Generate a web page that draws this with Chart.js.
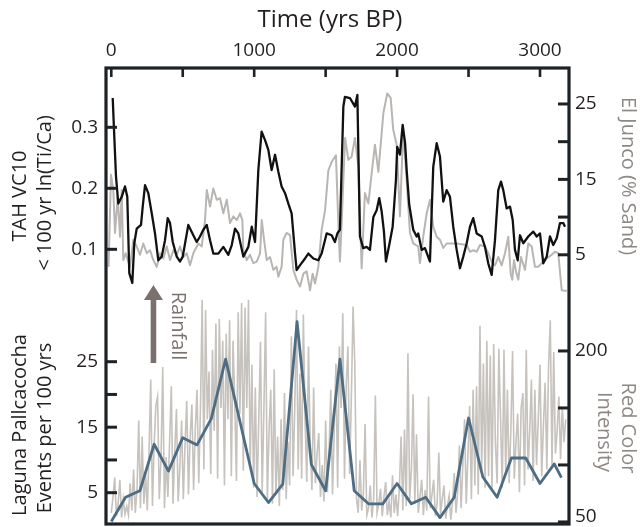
<!DOCTYPE html>
<html>
<head>
<meta charset="utf-8">
<title>TAH VC10 / El Junco / Laguna Pallcacocha</title>
<script src="https://cdn.jsdelivr.net/npm/chart.js@4.4.1/dist/chart.umd.min.js"></script>
<style>
  html, body { margin: 0; padding: 0; background: #fff; }
  #wrap { width: 641px; height: 527px; }
</style>
</head>
<body>
<div id="wrap"><canvas id="chart" width="641" height="527"></canvas></div>
<script>
// TAH VC10 < 100 yr ln(Ti/Ca), black line (top panel, left axis)
const tahYears = [10,19,33,49,73,96,112,126,147,161,
  178,208,220,236,259,283,306,329,353,376,
  395,411,430,458,481,500,539,574,598,621,
  644,668,691,714,749,784,819,843,866,889,
  924,959,983,1006,1029,1052,1076,1099,1122,1146,
  1169,1192,1216,1239,1262,1286,1297,1321,1356,1379,
  1414,1449,1472,1507,1542,1565,1582,1600,1624,1635,
  1670,1705,1722,1740,1763,1787,1810,1834,1857,1875,
  1892,1908,1922,1945,1969,1992,2001,2020,2039,2056,
  2067,2085,2113,2137,2148,2172,2195,2230,2253,2277,
  2300,2323,2347,2370,2393,2417,2440,2463,2487,2510,
  2533,2557,2592,2615,2638,2662,2685,2708,2727,2743,
  2767,2790,2809,2825,2844,2860,2883,2918,2953,2977,
  3000,3023,3047,3070,3093,3117,3140,3163,3175];
const tahValues = [0.348,0.296,0.219,0.175,0.186,0.203,0.186,0.061,0.045,0.110,
  0.134,0.140,0.170,0.205,0.192,0.159,0.126,0.082,0.088,0.115,
  0.151,0.143,0.112,0.088,0.080,0.088,0.140,0.123,0.112,0.121,
  0.132,0.140,0.115,0.093,0.093,0.104,0.091,0.107,0.134,0.126,
  0.088,0.104,0.137,0.112,0.230,0.293,0.279,0.263,0.230,0.255,
  0.227,0.203,0.192,0.175,0.159,0.093,0.066,0.074,0.085,0.093,
  0.085,0.082,0.093,0.126,0.123,0.112,0.126,0.132,0.334,0.350,
  0.348,0.334,0.353,0.121,0.102,0.104,0.099,0.153,0.164,0.184,
  0.162,0.129,0.080,0.107,0.137,0.214,0.268,0.255,0.304,0.274,
  0.230,0.173,0.132,0.121,0.126,0.099,0.102,0.080,0.235,0.274,
  0.252,0.178,0.197,0.186,0.137,0.099,0.069,0.088,0.110,0.137,
  0.151,0.126,0.121,0.104,0.077,0.058,0.115,0.197,0.211,0.197,
  0.167,0.170,0.148,0.099,0.082,0.123,0.110,0.121,0.129,0.121,
  0.126,0.077,0.088,0.121,0.107,0.118,0.143,0.143,0.137];

// El Junco % sand, grey line (top panel, right axis)
const junYears = [-19,-2,14,26,45,61,73,84,101,115,
  131,154,178,201,224,248,271,294,318,341,
  364,388,411,434,458,481,504,528,551,574,
  609,633,656,668,691,714,738,761,784,808,
  831,854,878,901,917,924,948,971,994,1018,
  1041,1053,1069,1088,1111,1134,1157,1169,1192,1204,
  1227,1251,1274,1297,1321,1344,1367,1391,1409,1426,
  1449,1472,1496,1519,1542,1572,1589,1600,1612,1636,
  1659,1682,1705,1729,1752,1775,1799,1822,1845,1869,
  1904,1931,1955,1973,1997,2020,2043,2067,2090,2113,
  2148,2160,2183,2207,2230,2253,2277,2300,2323,2347,
  2417,2487,2510,2533,2557,2580,2615,2638,2662,2685,
  2708,2732,2755,2778,2795,2806,2818,2832,2848,2867,
  2895,2918,2942,2965,2988,3012,3035,3058,3082,3105,
  3128,3152,3187];
const junValues = [3.4,15.6,13.6,7.9,12.7,7.4,13.6,4.3,5.2,4.3,
  3.4,7.0,6.1,5.0,6.5,5.2,5.6,4.3,3.4,5.2,
  4.5,6.1,4.3,5.6,5.0,6.1,4.7,5.2,3.6,5.2,
  6.5,6.1,9.6,13.6,11.4,13.8,12.3,12.5,10.5,12.3,
  9.2,10.1,9.6,10.5,9.6,5.6,4.3,5.0,3.9,4.1,
  5.2,9.6,7.0,4.3,4.7,3.0,3.4,2.1,3.4,7.0,
  7.9,7.6,3.0,1.7,0.8,2.5,2.8,0.3,2.5,1.2,
  3.4,8.3,10.9,16.2,17.3,18.2,9.2,4.1,9.2,20.5,
  17.6,18.0,20.5,16.7,3.2,13.2,11.8,15.8,19.6,16.0,
  23.8,26.4,25.8,21.6,19.6,10.1,21.6,14.9,7.9,6.5,
  6.1,3.9,7.4,10.5,12.3,8.7,7.4,7.0,5.9,6.5,
  6.5,6.3,5.4,5.6,5.4,6.3,6.1,5.2,4.1,3.6,
  4.7,3.6,5.2,7.4,2.5,1.7,4.3,2.8,1.7,4.7,
  3.0,6.5,6.1,3.4,3.4,3.9,4.3,4.7,5.0,5.4,
  5.2,0.3,0.2];

// Laguna Pallcacocha events per 100 yrs, blue line (bottom panel, left axis)
const eventYears = [0,100,200,300,400,500,600,700,800,900,1000,1100,1200,1300,1400,1500,
  1600,1700,1800,1900,2000,2100,2200,2300,2400,2500,2600,2700,2800,2900,3000,3100,3150];
const eventValues = [0.6,4.3,5.3,12.4,8.3,13.4,12.3,16.3,25.4,15.9,6.4,3.5,6.3,31.1,9.3,5.3,
  25.4,5.3,3.3,3.3,6.4,3.3,4.3,1.2,4.3,16.4,7.4,4.3,10.3,10.3,6.4,9.4,7.3];

// Red colour intensity, dense grey record (bottom panel, right axis), one value every 12 yrs
const redStartYear = 0;
const redStep = 12;
const redValues = [
  58,72,89,55,66,87,54,70,57,64,
  56,84,60,96,58,78,139,62,125,66,
  92,60,110,175,64,118,152,160,70,105,
  186,62,107,72,120,169,66,112,149,68,
  98,139,70,118,156,74,125,153,78,132,
  166,84,150,245,96,236,140,182,92,201,
  130,224,88,228,150,209,82,215,140,227,
  90,209,155,86,234,145,242,95,238,150,
  245,98,188,80,168,72,140,208,76,150,
  234,70,130,166,66,184,74,125,64,140,
  78,163,70,120,82,213,90,150,236,96,
  180,88,232,140,85,204,120,78,168,84,
  110,128,72,100,68,139,76,112,166,74,
  130,189,80,204,150,233,88,170,204,92,
  160,239,189,70,58,104,60,75,136,56,
  62,82,54,70,161,58,66,79,55,72,
  85,56,68,54,91,58,74,55,80,125,
  60,131,64,198,70,96,162,66,127,58,
  72,87,56,78,60,160,62,74,87,55,
  66,111,57,70,82,53,64,73,52,68,
  93,58,76,117,62,100,140,66,110,152,
  70,166,82,169,74,222,96,189,80,209,
  90,196,78,206,120,84,202,140,80,201,
  92,166,84,130,200,88,120,145,76,150,
  163,82,201,96,130,175,86,166,100,140,
  188,90,135,172,96,187,227,100,199,110,
  130,160,105,151,120,140];

// tick positions and which of them carry a label
const xTicks = [0,500,1000,1500,2000,2500,3000];
const xLabelled = [0,1000,2000,3000];
const tahTicks = [0.1,0.2,0.3];
const junTicks = [5,10,15,20,25];
const junLabelled = [5,15,25];
const evTicks = [5,10,15,20,25];
const evLabelled = [5,15,25];
const redTicks = [50,100,150,200];
const redLabelled = [50,200];

const FONT = '"Open Sans", "Noto Sans", sans-serif';
const INK = '#231f20';
const FRAME = '#1c2226';
const SOFT = '#8e8885';
const ARROW = '#7b706d';

function pairs(xs, ys) {
  return xs.map(function(x, i) { return {x: x, y: ys[i]}; });
}
const redPoints = redValues.map(function(v, i) { return {x: redStartYear + i * redStep, y: v}; });

function setTicks(list) {
  return function(scale) { scale.ticks = list.map(function(v) { return {value: v}; }); };
}
function fitWidth(w) {
  return function(scale) { scale.width = w; scale.paddingTop = 0; scale.paddingBottom = 0; };
}

function rotText(ctx, str, x, y, ang) {
  ctx.save();
  ctx.translate(x, y);
  ctx.rotate(ang);
  ctx.textAlign = 'center';
  ctx.textBaseline = 'middle';
  ctx.fillText(str, 0, 0);
  ctx.restore();
}

// frame, inward tick marks, titles and the rainfall arrow
const decor = {
  id: 'decor',
  afterDraw: function(chart) {
    const ctx = chart.ctx;
    const a = chart.chartArea;
    const sx = chart.scales.x;
    ctx.save();
    ctx.strokeStyle = FRAME;
    ctx.lineCap = 'butt';

    ctx.lineWidth = 2.6;
    sx.ticks.forEach(function(t) {
      const px = sx.getPixelForValue(t.value);
      ctx.beginPath(); ctx.moveTo(px, a.top); ctx.lineTo(px, a.top + 9); ctx.stroke();
    });
    ctx.lineWidth = 3;
    ['yTah', 'yEv'].forEach(function(id) {
      const s = chart.scales[id];
      s.ticks.forEach(function(t) {
        const py = s.getPixelForValue(t.value);
        ctx.beginPath(); ctx.moveTo(a.left, py); ctx.lineTo(a.left + 11, py); ctx.stroke();
      });
    });
    ['yJun', 'yRed'].forEach(function(id) {
      const s = chart.scales[id];
      s.ticks.forEach(function(t) {
        const py = s.getPixelForValue(t.value);
        ctx.beginPath(); ctx.moveTo(a.right - 11, py); ctx.lineTo(a.right, py); ctx.stroke();
      });
    });

    ctx.lineWidth = 3.2;
    ctx.strokeRect(a.left, a.top, a.right - a.left, a.bottom - a.top);

    // red intensity labels, the bottom one kept inside the picture
    const sr = chart.scales.yRed;
    ctx.fillStyle = INK;
    ctx.font = '19px ' + FONT;
    ctx.textAlign = 'left';
    ctx.textBaseline = 'middle';
    redLabelled.forEach(function(v) {
      const py = Math.min(sr.getPixelForValue(v), a.bottom - 7);
      ctx.fillText(String(v), a.right + 6, py);
    });

    // titles
    ctx.fillStyle = INK;
    ctx.font = '24px ' + FONT;
    ctx.textAlign = 'center';
    ctx.textBaseline = 'middle';
    ctx.fillText('Time (yrs BP)', 330, 20);

    ctx.font = '20px ' + FONT;
    rotText(ctx, 'TAH VC10', 20, 196, -Math.PI / 2);
    rotText(ctx, '< 100 yr ln(Ti/Ca)', 45, 193, -Math.PI / 2);
    rotText(ctx, 'Laguna Pallcacocha', 20, 425, -Math.PI / 2);
    rotText(ctx, 'Events per 100 yrs', 45, 428, -Math.PI / 2);

    ctx.fillStyle = SOFT;
    rotText(ctx, 'El Junco (% Sand)', 628, 176, Math.PI / 2);
    rotText(ctx, 'Red Color', 628, 428, Math.PI / 2);
    rotText(ctx, 'Intensity', 604, 432, Math.PI / 2);

    // rainfall arrow, anchored at 295 yrs BP
    const ax = sx.getPixelForValue(295);
    ctx.fillStyle = ARROW;
    ctx.fillRect(ax - 2.8, a.top + 231, 5.6, 64);
    ctx.beginPath();
    ctx.moveTo(ax - 9.5, a.top + 232);
    ctx.lineTo(ax + 9.5, a.top + 232);
    ctx.lineTo(ax, a.top + 217);
    ctx.closePath();
    ctx.fill();
    rotText(ctx, 'Rainfall', ax + 24, a.top + 258, Math.PI / 2);
    ctx.restore();
  }
};

const tickFont = {family: FONT, size: 19};

new Chart(document.getElementById('chart'), {
  type: 'line',
  data: {
    datasets: [
      { label: 'TAH VC10', data: pairs(tahYears, tahValues), yAxisID: 'yTah',
        borderColor: '#111111', borderWidth: 2.3, order: 1 },
      { label: 'Laguna Pallcacocha', data: pairs(eventYears, eventValues), yAxisID: 'yEv',
        borderColor: '#4e6d83', borderWidth: 2.8, order: 1 },
      { label: 'El Junco', data: pairs(junYears, junValues), yAxisID: 'yJun',
        borderColor: '#b9b5b2', borderWidth: 2, order: 2 },
      { label: 'Red Color Intensity', data: redPoints, yAxisID: 'yRed',
        borderColor: '#c6c2bd', borderWidth: 1.6, borderJoinStyle: 'miter', order: 3 }
    ]
  },
  options: {
    responsive: false,
    animation: false,
    devicePixelRatio: 1,
    layout: { padding: { left: 0, right: 0, top: 0, bottom: 3 } },
    elements: {
      point: { radius: 0 },
      line: { tension: 0, borderJoinStyle: 'round', fill: false }
    },
    datasets: { line: { clip: false } },
    plugins: { legend: { display: false }, tooltip: { enabled: false } },
    scales: {
      x: {
        type: 'linear', position: 'top', min: -37, max: 3203,
        grid: { display: false, drawTicks: false }, border: { display: false },
        afterBuildTicks: setTicks(xTicks),
        afterFit: function(s) { s.height = 68; s.paddingLeft = 0; s.paddingRight = 0; },
        ticks: { padding: 6, color: INK, font: tickFont, maxRotation: 0, autoSkip: false,
          callback: function(v) { return xLabelled.indexOf(v) >= 0 ? String(v) : ''; } }
      },
      yEv: {
        type: 'linear', position: 'left', stack: 'left', stackWeight: 224,
        min: 0.22, max: 34.42,
        grid: { display: false, drawTicks: false }, border: { display: false },
        afterBuildTicks: setTicks(evTicks), afterFit: fitWidth(106),
        ticks: { padding: 8, color: INK, font: tickFont, autoSkip: false,
          callback: function(v) { return evLabelled.indexOf(v) >= 0 ? String(v) : ''; } }
      },
      yTah: {
        type: 'linear', position: 'left', stack: 'left', stackWeight: 232,
        min: 0.0169, max: 0.3972,
        grid: { display: false, drawTicks: false }, border: { display: false },
        afterBuildTicks: setTicks(tahTicks), afterFit: fitWidth(106),
        ticks: { padding: 8, color: INK, font: tickFont, autoSkip: false,
          callback: function(v) { return v.toFixed(1); } }
      },
      yJun: {
        type: 'linear', position: 'right', stack: 'right', stackWeight: 232,
        min: -0.995, max: 29.77,
        grid: { display: false, drawTicks: false }, border: { display: false },
        afterBuildTicks: setTicks(junTicks), afterFit: fitWidth(72),
        ticks: { padding: 6, color: INK, font: tickFont, autoSkip: false,
          callback: function(v) { return junLabelled.indexOf(v) >= 0 ? String(v) : ''; } }
      },
      yRed: {
        type: 'linear', position: 'right', stack: 'right', stackWeight: 224,
        min: 48.2, max: 244.7,
        grid: { display: false, drawTicks: false }, border: { display: false },
        afterBuildTicks: setTicks(redTicks), afterFit: fitWidth(72),
        ticks: { display: false }
      }
    }
  },
  plugins: [decor]
});
</script>
</body>
</html>
